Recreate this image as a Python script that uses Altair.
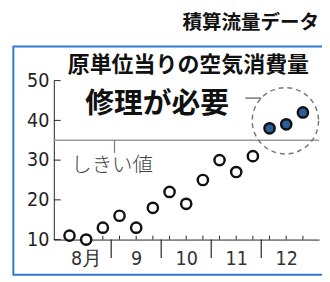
import json
import altair as alt
import pandas as pd

# ---- data ----
values = [11, 10, 13, 16, 13, 18, 22, 19, 25, 30, 27, 31, 38, 39, 42]
status = ["正常", "正常", "正常", "正常", "正常", "正常", "正常", "正常",
          "正常", "正常", "正常", "正常", "修理", "修理", "修理"]
months = ["8月", "9", "10", "11", "12"]
month_centers = [1.5, 4.5, 7.5, 10.5, 13.5]
month_bounds = [3, 6, 9, 12]
y_ticks = [10, 20, 30, 40, 50]
threshold = 35

JP = "Noto Sans CJK JP"
NUM = "Liberation Sans Narrow, DejaVu Sans Condensed, Arial Narrow, sans-serif"

W, H = 272, 163

pts = pd.DataFrame({"t": [i + 0.5 for i in range(len(values))],
                    "v": values, "s": status})
ticks_df = pd.DataFrame({"v": y_ticks})
bounds_df = pd.DataFrame({"t": month_bounds})

xs = alt.Scale(domain=[-0.44, 15.47], nice=False, zero=False)
ys = alt.Scale(domain=[10, 50], nice=False, zero=False)

label_expr = json.dumps(months, ensure_ascii=False) + "[floor(datum.value / 3)]"

base = alt.Chart(pts)

box = alt.Chart(pd.DataFrame({"a": [0]})).mark_rect(
    fill="transparent", stroke="#2b7bd0", strokeWidth=2
).encode(x=alt.value(-41.5), x2=alt.value(300), y=alt.value(-35), y2=alt.value(199))

thr = alt.Chart(pd.DataFrame({"v": [threshold]})).mark_rule(
    color="#9a9a9a", strokeWidth=1.5
).encode(y=alt.Y("v:Q", scale=ys), x=alt.value(0), x2=alt.value(W))

thr_lead = alt.Chart(pd.DataFrame({"t": [3.2], "v": [threshold], "v2": [31.8]})).mark_rule(
    color="#777", strokeWidth=1.2
).encode(x=alt.X("t:Q", scale=xs), y=alt.Y("v:Q", scale=ys), y2="v2:Q")

thr_text = alt.Chart(pd.DataFrame({"t": [0.6], "v": [28.4], "txt": ["しきい値"]})).mark_text(
    align="left", baseline="middle", font=JP, fontSize=21, fontWeight=300, color="#444"
).encode(x=alt.X("t:Q", scale=xs), y=alt.Y("v:Q", scale=ys), text="txt:N")

yt = alt.Chart(ticks_df).mark_rule(color="#222", strokeWidth=1).encode(
    y=alt.Y("v:Q", scale=ys), x=alt.value(0), x2=alt.value(7))

xminor = base.mark_rule(color="#222", strokeWidth=1).encode(
    x=alt.X("t:Q", scale=xs), y=alt.value(H), y2=alt.value(H - 4))

xmajor = alt.Chart(bounds_df).mark_rule(color="#222", strokeWidth=1.2).encode(
    x=alt.X("t:Q", scale=xs), y=alt.value(H), y2=alt.value(H + 19))

ring = alt.Chart(pd.DataFrame({"t": [13.45], "v": [39.9]})).mark_point(
    shape="circle", filled=False, stroke="#777", strokeWidth=1.5, strokeDash=[5, 4],
    size=4624, opacity=1
).encode(x=alt.X("t:Q", scale=xs), y=alt.Y("v:Q", scale=ys))

ring_lead = alt.Chart(pd.DataFrame({"t": [11.05], "t2": [12.0], "v": [45.6]})).mark_rule(
    color="#777", strokeWidth=1.5
).encode(x=alt.X("t:Q", scale=xs), x2="t2:Q", y=alt.Y("v:Q", scale=ys))

points = base.mark_point(shape="circle", size=110, strokeWidth=2.5, opacity=1).encode(
    x=alt.X("t:Q", scale=xs, axis=alt.Axis(
        values=month_centers, labelExpr=label_expr, tickSize=0, labelPadding=10,
        title=None, grid=False, domainColor="#222", labelColor="#333",
        labelFont=NUM, labelFontSize=20, labelOverlap=False, labelFlush=False)),
    y=alt.Y("v:Q", scale=ys, axis=alt.Axis(
        values=y_ticks, tickSize=0, labelPadding=5, title=None, grid=False,
        domainColor="#222", labelColor="#222", labelFont=NUM, labelFontSize=20,
        labelOverlap=False, labelFlush=False)),
    fill=alt.Fill("s:N", scale=alt.Scale(domain=["正常", "修理"], range=["#ffffff", "#2c5d99"]), legend=None),
    stroke=alt.value("#111"),
)

def label(txt, x, y, size, weight, align="center", color="#111"):
    return alt.Chart(pd.DataFrame({"txt": [txt]})).mark_text(
        align=align, baseline="middle", font=JP, fontSize=size, fontWeight=weight, color=color
    ).encode(x=alt.value(x), y=alt.value(y), text="txt:N")

title = label("積算流量データ", 272, -59, 20, "bold", align="right")
sub = label("原単位当りの空気消費量", 138, -16, 22.5, "bold")
repair = label("修理が必要", 106, 24, 29.5, "bold")

chart = alt.layer(
    box, thr, thr_lead, yt, xminor, xmajor, ring, ring_lead, points,
    thr_text, title, sub, repair
).properties(
    width=W, height=H,
    padding={"left": 47, "top": 71, "right": 3, "bottom": 40},
    autosize=alt.AutoSizeParams(type="none"),
).configure_view(stroke=None)

chart.save("out.html", embed_options={"renderer": "svg", "actions": False})
